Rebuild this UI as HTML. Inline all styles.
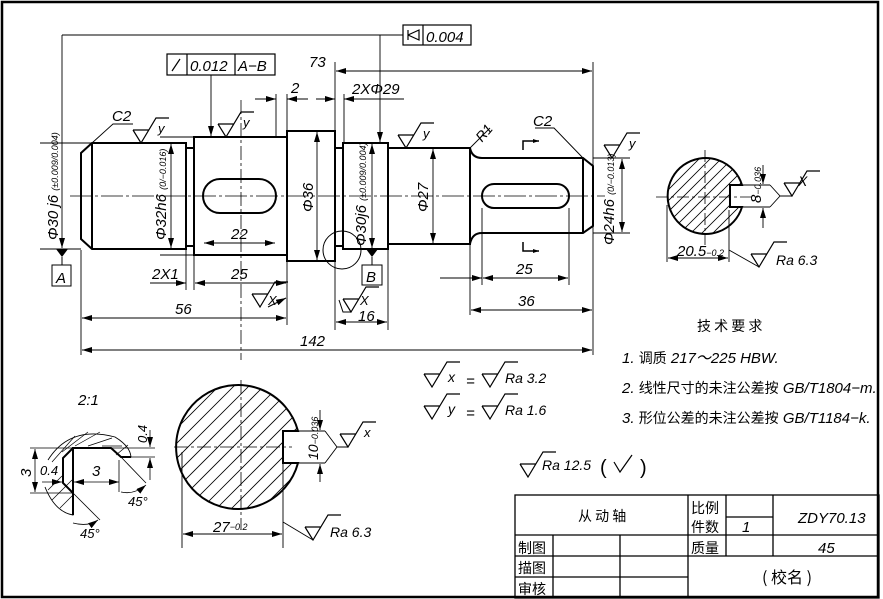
<!DOCTYPE html>
<html><head><meta charset="utf-8"><style>
html,body{margin:0;padding:0;background:#fff;}
svg{display:block;}
text{font-family:"Liberation Sans","Noto Sans CJK SC",sans-serif;font-style:italic;fill:#000;}
.cn{font-style:normal;font-family:"Noto Sans CJK SC","WenQuanYi Zen Hei",sans-serif;}
</style></head><body>
<svg width="883" height="599" viewBox="0 0 883 599" xmlns="http://www.w3.org/2000/svg">
<defs>
<marker id="a" viewBox="0 0 10 6" refX="10" refY="3" markerWidth="10" markerHeight="6" orient="auto-start-reverse" markerUnits="userSpaceOnUse"><path d="M0,0L10,3L0,6z" fill="#000"/></marker>
<g id="sf"><path d="M-8,-13L0,0L15,-25L28,-25M-8,-13L8,-13" fill="none" stroke="#000" stroke-width="1.2"/></g>
<clipPath id="c1"><path d="M730,185H742A38,38 0 1 0 742,207H730Z"/></clipPath>
<clipPath id="c2"><path d="M283,431H298A62,62 0 1 0 298,463H283Z"/></clipPath>
</defs>
<rect x="2" y="2" width="876" height="595" fill="none" stroke="#000" stroke-width="2.5"/>

<path d="M70,196H605" stroke="#000" stroke-width="0.8" stroke-dasharray="22,3,3,3" fill="none"/>
<path d="M241,100V360 M241,380V530" stroke="#000" stroke-width="0.8" stroke-dasharray="14,3,3,3"/>

<g fill="none" stroke="#000" stroke-width="2">
<path d="M92,143L81,153V239L92,249H186V143H92Z M92,143V249"/>
<path d="M186,148H194V246H186"/>
<rect x="194" y="137" width="93" height="118"/>
<rect x="287" y="131" width="48" height="130"/>
<path d="M335,148H343V246H335"/>
<rect x="343" y="143" width="45" height="106"/>
<path d="M388,148H470V244H388"/>
<path d="M470,148Q472,158 482,158H583L593,166V226L583,233H482Q472,233 470,244"/>
<path d="M583,158V233"/>
<rect x="203" y="179" width="73" height="34" rx="17"/>
<rect x="482" y="184" width="87" height="24" rx="12"/>
</g>
<g fill="none" stroke="#000" stroke-width="1.5">
<path d="M523,150V141H539"/><path d="M523,242V251H539"/>
</g>
<path d="M539,141l-6,-2v4z M539,251l-6,-2v4z" fill="#000"/>
<circle cx="342" cy="250" r="19" fill="none" stroke="#000" stroke-width="1"/>

<g fill="none" stroke="#000" stroke-width="0.9">
<path d="M62,35H403"/>
<path d="M62,35V248" marker-end="url(#a)"/>
<path d="M380,35V142" marker-end="url(#a)"/>
<path d="M211,75V136" marker-end="url(#a)"/>
<path d="M335,62V330 M593,62V355"/>
<path d="M336,71H592" marker-start="url(#a)" marker-end="url(#a)"/>
<path d="M276,94V137 M287,94V131 M344,94V143"/>
<path d="M255,99H276" marker-end="url(#a)"/><path d="M308,99H287" marker-end="url(#a)"/>
<path d="M316,99H335" marker-end="url(#a)"/><path d="M404,99H344" marker-end="url(#a)"/>
<path d="M81,250V355 M186,250V290 M194,255V290 M287,261V325 M388,250V330 M470,244V315 M482,208V285 M569,208V285"/>
<path d="M150,283H186" marker-end="url(#a)"/><path d="M195,283H286" marker-start="url(#a)" marker-end="url(#a)"/>
<path d="M82,318H286" marker-start="url(#a)" marker-end="url(#a)"/>
<path d="M82,350H592" marker-start="url(#a)" marker-end="url(#a)"/>
<path d="M336,322H387" marker-start="url(#a)" marker-end="url(#a)"/>
<path d="M204,243H275" marker-start="url(#a)" marker-end="url(#a)"/>
<path d="M440,278H482" marker-end="url(#a)"/><path d="M483,278H568" marker-start="url(#a)" marker-end="url(#a)"/>
<path d="M471,310H592" marker-start="url(#a)" marker-end="url(#a)"/>
<path d="M171,144V248" marker-start="url(#a)" marker-end="url(#a)"/><path d="M160,137H194 M160,255H194"/>
<path d="M317,132V260" marker-start="url(#a)" marker-end="url(#a)"/>
<path d="M372,144V248" marker-start="url(#a)" marker-end="url(#a)"/>
<path d="M433,149V243" marker-start="url(#a)" marker-end="url(#a)"/>
<path d="M622,159V232" marker-start="url(#a)" marker-end="url(#a)"/><path d="M593,158H630 M593,233H630"/>
<path d="M40,143H92 M40,249H81"/>
<path d="M92,143L113,124H133"/>
<path d="M583,158L554,128H535"/>
<path d="M470,148L490,128"/>
</g>
<path d="M56,249H68L62,257z" fill="#000"/><path d="M62,257V265" stroke="#000"/>
<rect x="52" y="265" width="19" height="21" fill="none" stroke="#000"/>
<text x="56" y="283" font-size="15">A</text>
<path d="M366,249H378L372,257z" fill="#000"/><path d="M372,257V265" stroke="#000"/>
<rect x="362" y="265" width="20" height="20" fill="none" stroke="#000"/>
<text x="366" y="282" font-size="15">B</text>
<g fill="none" stroke="#000" stroke-width="1.2">
<rect x="403" y="25" width="68" height="20"/><path d="M423,25V45"/>
<rect x="167" y="54" width="108" height="21"/><path d="M187,54V75 M235,54V75"/>
<path d="M172,71L180,59M408,30V40M408,35L419,30V40L408,35" />
</g>
<text x="426" y="42" font-size="15">0.004</text>
<text x="190" y="71" font-size="15">0.012</text>
<text x="238" y="71" font-size="15">A−B</text>

<text x="112" y="121" font-size="15">C2</text>
<text x="533" y="126" font-size="15">C2</text>
<text x="476" y="140" font-size="14" transform="rotate(-50 482 135)">R1</text>
<text x="291" y="93" font-size="15">2</text>
<text x="352" y="94" font-size="15">2XΦ29</text>
<text x="309" y="67" font-size="15">73</text>
<text x="152" y="279" font-size="15">2X1</text>
<text x="231" y="279" font-size="15">25</text>
<text x="231" y="239" font-size="15">22</text>
<text x="175" y="314" font-size="15">56</text>
<text x="300" y="346" font-size="15">142</text>
<text x="358" y="321" font-size="15">16</text>
<text x="516" y="274" font-size="15">25</text>
<text x="518" y="306" font-size="15">36</text>
<g font-size="15">
<text transform="translate(58,240) rotate(-90)">Φ30 j6 <tspan font-size="9">(±0.009/0.004)</tspan></text>
<text transform="translate(166,240) rotate(-90)">Φ32h6 <tspan font-size="9">(0/−0.016)</tspan></text>
<text transform="translate(313,212) rotate(-90)">Φ36</text>
<text transform="translate(366,246) rotate(-90)">Φ30j6 <tspan font-size="9">(±0.009/0.004)</tspan></text>
<text transform="translate(428,212) rotate(-90)">Φ27</text>
<text transform="translate(614,245) rotate(-90)">Φ24h6 <tspan font-size="9">(0/−0.013)</tspan></text>
</g>

<use href="#sf" x="141" y="143"/><text x="158" y="133" font-size="13">y</text>
<use href="#sf" x="226" y="137"/><text x="243" y="127" font-size="13">y</text>
<use href="#sf" x="406" y="148"/><text x="423" y="138" font-size="13">y</text>
<use href="#sf" x="612" y="158"/><text x="629" y="148" font-size="13">y</text>
<use href="#sf" x="260" y="307"/><text x="268" y="305" font-size="13">X</text>
<path d="M268,307L286,298" stroke="#000" marker-end="url(#a)"/>
<use href="#sf" x="351" y="312"/><text x="360" y="305" font-size="13">X</text>
<path d="M339,300L343,312H351" stroke="#000" fill="none"/>

<g clip-path="url(#c1)" stroke="#000" stroke-width="0.8">
<path d="M607,240L697,150M618,240L708,150M629,240L719,150M640,240L730,150M651,240L741,150M662,240L752,150M673,240L763,150M684,240L774,150M695,240L785,150M706,240L796,150"/>
</g>
<path d="M730,185H742A38,38 0 1 0 742,207H730Z" fill="none" stroke="#000" stroke-width="2"/>
<path d="M656,197H760M705,150V245" stroke="#000" stroke-width="0.8" stroke-dasharray="12,3,3,3"/>
<g fill="none" stroke="#000" stroke-width="0.9">
<path d="M742,185H770M742,207H770"/>
<path d="M763,165V184" marker-end="url(#a)"/><path d="M763,228V208" marker-end="url(#a)"/>
<path d="M667,205V262M729,210V262"/>
<path d="M668,258H728" marker-start="url(#a)" marker-end="url(#a)"/>
<path d="M770,185L780,196L770,207M780,196H792"/>
<path d="M729,250L759,267"/>
</g>
<use href="#sf" x="792" y="196"/><text x="798" y="186" font-size="14">X</text>
<use href="#sf" x="759" y="267"/><text x="776" y="265" font-size="14">Ra 6.3</text>
<text x="677" y="256" font-size="15">20.5<tspan font-size="9">−0.2</tspan></text>
<text transform="translate(761,203) rotate(-90)" font-size="15">8<tspan font-size="9">−0.036</tspan></text>

<g clip-path="url(#c2)" stroke="#000" stroke-width="0.8">
<path d="M65,540L255,350M80,540L270,350M95,540L285,350M110,540L300,350M125,540L315,350M140,540L330,350M155,540L345,350M170,540L360,350M185,540L375,350M200,540L390,350M215,540L405,350M230,540L420,350M245,540L435,350"/>
</g>
<path d="M283,431H298A62,62 0 1 0 298,463H283Z" fill="none" stroke="#000" stroke-width="2"/>
<path d="M174,447H292" stroke="#000" stroke-width="0.8" stroke-dasharray="14,3,3,3"/>
<g fill="none" stroke="#000" stroke-width="0.9">
<path d="M298,431H325M298,463H325"/>
<path d="M320,410V430" marker-end="url(#a)"/><path d="M320,482V464" marker-end="url(#a)"/>
<path d="M182,452V548M283,460V548"/>
<path d="M183,534H282" marker-start="url(#a)" marker-end="url(#a)"/>
<path d="M325,431L337,447L325,463M337,447H348"/>
<path d="M283,522L313,540"/>
</g>
<use href="#sf" x="348" y="447"/><text x="364" y="437" font-size="13">x</text>
<use href="#sf" x="313" y="540"/><text x="330" y="537" font-size="14">Ra 6.3</text>
<text x="213" y="532" font-size="15">27<tspan font-size="9" dy="-2">−0.2</tspan></text>
<text transform="translate(318,460) rotate(-90)" font-size="14">10<tspan font-size="9">−0.036</tspan></text>

<text x="78" y="405" font-size="15">2:1</text>
<path d="M48,460Q70,425 115,437Q130,446 131,457H121L111,448H73L63,458V483L73,493V515Q55,512 45,487" fill="none" stroke="#000" stroke-width="0.9"/>
<g stroke="#000" stroke-width="0.7">
<path d="M52,462L75,436M62,452L88,432M75,446L100,432M88,446L112,438M102,446L122,446M116,455L128,445M48,490L62,476M52,500L72,480M60,508L73,495"/>
</g>
<path d="M73,515V448H111L121,457H131M73,448L63,458V483L73,493" fill="none" stroke="#000" stroke-width="2"/>
<g fill="none" stroke="#000" stroke-width="0.8">
<path d="M30,448H155M30,493H73M121,457H155"/>
<path d="M35,449V492" marker-start="url(#a)" marker-end="url(#a)"/>
<path d="M74,482H119" marker-start="url(#a)" marker-end="url(#a)"/>
<path d="M119,460V492"/>
<path d="M150,430V447" marker-end="url(#a)"/><path d="M150,480V458" marker-end="url(#a)"/>
<path d="M121,457L146,483"/><path d="M73,493L100,520"/>
<path d="M121,492Q134,495 146,485" marker-end="url(#a)"/>
<path d="M73,523Q88,527 98,520" marker-end="url(#a)"/>
<path d="M42,482H62" marker-end="url(#a)"/>
</g>
<text transform="translate(31,477) rotate(-90)" font-size="15">3</text>
<text x="40" y="475" font-size="13">0.4</text>
<text x="92" y="476" font-size="15">3</text>
<text transform="translate(147,443) rotate(-90)" font-size="13">0.4</text>
<text x="128" y="506" font-size="13">45°</text>
<text x="80" y="538" font-size="13">45°</text>

<use href="#sf" x="432" y="387"/><text x="448" y="382" font-size="14">x</text>
<text x="466" y="386" font-size="15">=</text>
<use href="#sf" x="490" y="387"/><text x="505" y="383" font-size="14">Ra 3.2</text>
<use href="#sf" x="432" y="419"/><text x="448" y="414" font-size="14">y</text>
<text x="466" y="418" font-size="15">=</text>
<use href="#sf" x="490" y="419"/><text x="505" y="415" font-size="14">Ra 1.6</text>
<use href="#sf" x="528" y="477"/><text x="542" y="470" font-size="14">Ra 12.5</text>
<text x="600" y="474" font-size="20" style="font-style:normal">(</text>
<path d="M614,462L620,472L632,455" fill="none" stroke="#000" stroke-width="1.2"/>
<text x="640" y="474" font-size="20" style="font-style:normal">)</text>

<text x="697" y="331" font-size="14" class="cn">技 术 要 求</text>
<text x="622" y="363" font-size="15">1. <tspan class="cn" font-size="14">调质</tspan> 217～225 HBW.</text>
<text x="622" y="393" font-size="15">2. <tspan class="cn" font-size="14">线性尺寸的未注公差按</tspan> GB/T1804−m.</text>
<text x="622" y="423" font-size="15">3. <tspan class="cn" font-size="14">形位公差的未注公差按</tspan> GB/T1184−k.</text>

<g fill="none" stroke="#000" stroke-width="1.3">
<rect x="515" y="495" width="364" height="103"/>
<path d="M515,535H879M515,556H879M515,577H688M553,535V598M620,535V598M688,495V598M726,495V556M773,495V556M726,517H773"/>
</g>
<text x="578" y="521" font-size="14" class="cn">从 动 轴</text>
<text x="691" y="513" font-size="14" class="cn">比例</text>
<text x="691" y="532" font-size="14" class="cn">件数</text>
<text x="742" y="532" font-size="15">1</text>
<text x="798" y="523" font-size="15">ZDY70.13</text>
<text x="691" y="553" font-size="14" class="cn">质量</text>
<text x="818" y="553" font-size="15">45</text>
<text x="518" y="553" font-size="14" class="cn">制图</text>
<text x="518" y="573" font-size="14" class="cn">描图</text>
<text x="518" y="594" font-size="14" class="cn">审核</text>
<text x="762" y="583" font-size="16" class="cn">( 校名 )</text>
</svg>
</body></html>
